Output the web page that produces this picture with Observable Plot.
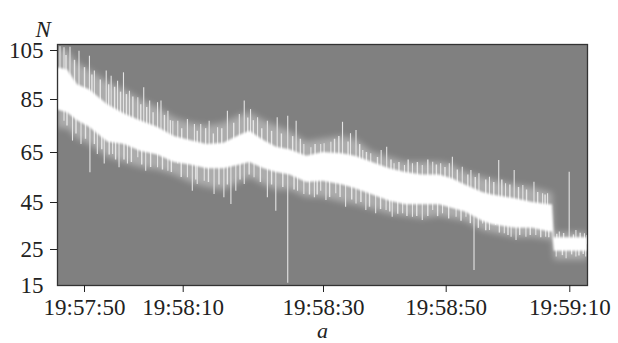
<!DOCTYPE html>
<html><head><meta charset="utf-8">
<script src="https://cdn.jsdelivr.net/npm/d3@7"></script>
<script src="https://cdn.jsdelivr.net/npm/@observablehq/plot@0.6"></script>
<style>
body{margin:0;background:#fff}
#chart svg{display:block}
#chart svg, #chart svg text{font-family:"Liberation Serif","Times New Roman",serif !important;}
</style>
</head><body><div id="chart"></div>
<script>
// time in seconds after 19:57:00
const coreT  = [44.6,46.6,48.6,51,54.7,58.1,61.3,64.8,68.2,71,73.4,75.8,78.1,79.5,81.5,83.3,85.2,87.6,89.9,93.1,95.2,98,100.8,103.4,106.1,108.9,111,113.1,115.9,117.5,121.2,124,126.7,127.2,127.5,130.1,132.9];
const coreHi = [98,97,91,89,83,79.5,77,74.5,71,69.5,68,68.5,71.5,73,69.5,67,66,63.5,65,64.5,63.5,61,58.5,57,56,56,54.5,52,49,48,46.5,45,44,44,30,30,30];
const coreLo = [81,80,77,74.5,69,68,65.5,64,61,60,58.5,58.5,60,61,58.5,57,56,53,53.5,52,50.5,48,45.5,44,44,44,42.5,41,37,35.5,34,34,32.5,32.5,24.5,24.5,24.5];
const haloHi = [106,105,100,97,92,89,85,82,78,76,75,76,79,80,77,75,73,69,70,71,70,65,63,61,61,61,60,57,55,54,52,51,49,49,32,32,32];
const haloLo = [74,74,70,68,63,61,59,58,56,53,51,50,53,55,52,50,50,47,47,45,44,42,40,39,38,39,38,37,33,32,30,30,29,29,22,22,22];

const upT    = [45.1,45.9,47.1,48.9,51.0,52.0,54.4,55.4,56.7,57.9,59.1,60.8,62.0,63.2,64.8,65.5,66.9,67.9,68.9,70.6,71.6,72.5,73.7,74.9,76.3,78.0,78.7,79.6,80.6,82.0,83.4,84.9,86.1,87.2,88.2,89.6,90.1,91.2,93.1,94.4,95.3,96.4,97.7,99.4,100.3,101.5,103.2,104.5,106.1,107.8,109.1,110.5,111.0,112.6,114.0,115.3,117.0,118.5,119.6,121.0,122.4,124.2,125.6,126.4,128.3,129.9,131.0,132.4];
const upBase = [90,90,89,84,82,80,76,76,75,74,73,71,70,70,69,69,68,66,66,65,65,64,63,63,63,66,66,67,65,63,62,61,60,58,58,59,59,59,58,57,57,56,54,53,52,51,50,50,50,50,50,48,48,47,45,43,41.5,41,40,40,40,39.5,38,38,27,27,27,27];
const upTop  = [106.5,106.1,106.3,104.7,102.7,96.6,96.6,94.5,92.5,95.9,88.4,85.7,89.8,84.4,83.8,84.4,80.6,76.8,76.8,77.5,75.6,75.6,76.8,74.3,80.6,79.3,84.4,81.2,78.1,76.8,78.1,78.7,76.8,68,66.8,68,68.3,68.9,76.4,72.1,73.3,65.8,64.5,65.8,67,60.5,59.8,60.5,59.8,61.1,60.5,60.5,63.1,59.1,57.8,56.5,55.1,61.8,52.5,57.8,51.8,53.1,48.5,48.5,32.4,57.1,33.1,31.7];

const downT    = [45.9,47.6,49.3,51.1,52.6,54.0,55.7,57.0,58.7,60.8,62.4,64.8,66.9,68.9,70.6,71.3,72.0,73.0,74.4,75.8,76.8,77.5,78.7,80.1,82.0,83.2,84.9,86.3,87.2,88.7,89.6,90.4,92.0,93.6,95.3,96.9,98.5,100.2,101.2,102.9,104.5,106.1,107.8,109.4,111.6,113.2,114.5,115.9,117.0,118.0,119.4,120.5,121.3,122.9,124.5,126.1,127.8,129.4,131.0,132.6];
const downBase = [90,88,84,82,80,77,76,75,73,71,70,69,68,66,65,65,64,63,63,63,63,64,66,66,63,62,61,60,58,58,59,59,58,58,57,56,54,52,51,50,50,50,50,49,48,46,45,43,41.5,41,40,40,40,40,39.5,38,27,27,27,27];
const downBot  = [76.8,69.3,68,56.9,64.2,60.4,64.2,58.9,60.4,62.9,57.5,58.9,57.5,60.4,54.9,49.5,52.2,53.5,48.2,46.9,44.1,49.5,52.2,54.9,46.9,41.3,15.6,49.5,48.2,46.9,49.5,45.8,48.5,43,44.4,41.6,40.2,41.6,38.7,40.2,38.7,37.3,41.6,40.2,38.7,38.7,19.2,35.9,33.1,35.2,31.7,30.2,28.8,30.2,31,30.2,22.9,22.4,22.9,22.9];

// shorter, denser spikes of the noisy band
const minorUpT    = [46.3,48.0,50.0,51.5,53.2,54.9,56.1,57.3,58.5,59.8,61.4,62.6,63.9,66.2,67.4,69.7,72.0,73.2,74.3,75.5,77.2,79.2,80.0,81.2,82.6,84.0,85.6,86.7,88.8,91.8,92.5,94.0,95.9,97.0,98.8,101.0,102.3,103.8,105.3,107.0,108.4,109.8,111.8,113.5,114.7,116.4,117.7,119.0,120.3,121.7,123.0,124.8,126.0,127.9,129.0,130.6,131.7,132.8];
const minorUpBase = [90,87,83,81,78,76,75,74,73,72,71,70,69,68,67,65,64,63,63,63,64,66,66,64,63,62,60,59,58,58,58,57,56,55,53,51,50,50,50,50,50,49,48,46,44,42,41,41,40,40,40,39,38,27,27,27,27,27];
const minorUpTop  = [103,101,98,95,93,91,90,88,87,86,83,82,80,79,77,74,73,74,72,74,76,78,77,74,73,72,71,70,68,70,71,69,68,65,63,62,61,62,61,62,60,59,58,56,55,54,53,54,52,51,50,49,48,31.5,31.8,31.2,31.9,31];
const minorDownT    = [46.5,48.3,50.2,52.0,53.5,55.0,56.3,58.0,59.5,61.6,63.4,65.8,67.6,69.6,71.8,73.6,75.1,76.3,78.1,79.4,81.0,82.6,84.2,85.8,88.0,89.1,91.0,92.7,94.6,96.1,97.5,99.3,100.8,102.1,103.6,105.2,107.0,108.6,110.4,112.4,113.9,115.2,116.4,118.6,120.0,121.9,123.6,125.3,126.6,128.8,130.3,131.5,132.2];
const minorDownBot  = [75,72,70,68,66,64,62,62,61,60,59,58,57,55,54,53,52,52,54,56,53,52,51,50,48,48,47,47,46,45,43,42,41,40,39,39,39,39,38,37,36,34,33,32,31,31,31,30,30,23.3,23.5,23.2,23.6];
const minorDownBase = [90,87,83,80,78,76,75,74,72,71,70,68,67,65,64,63,63,63,66,67,65,63,62,60,58,59,59,58,57,56,55,53,52,51,50,50,50,50,48,47,45,44,42,41,40,40,40,39,38,27,27,27,27];

const yTicks = [25,45,65,85,105];
const yBottomTick = [15];
const xTicks = [50,70,90,110,130];
const xTickLabels = ["19:57:50","19:58:10","19:58:30","19:58:50","19:59:10"];

const core = coreT.map((t,i)=>({t, lo:coreLo[i], hi:coreHi[i], hlo:haloLo[i], hhi:haloHi[i]}));
const spikes = upT.map((t,i)=>({t, a:upBase[i], b:upTop[i]}))
  .concat(downT.map((t,i)=>({t, a:downBot[i], b:downBase[i]})));
const minor = minorUpT.map((t,i)=>({t, a:minorUpBase[i], b:minorUpTop[i]}))
  .concat(minorDownT.map((t,i)=>({t, a:minorDownBot[i], b:minorDownBase[i]})));

const FONT = "'Liberation Serif','Times New Roman',serif";
const chart = Plot.plot({
  width:618, height:343,
  marginLeft:57, marginRight:31, marginTop:44, marginBottom:58,
  style:{fontFamily:FONT, fontSize:"23px", color:"#222", background:"white"},
  x:{type:"linear", domain:[44.6,50,70,90,110,130,132.9], range:[57,84,182.7,323,445.7,569.3,587]},
  y:{type:"linear", domain:[15,25,45,65,85,105,107.4], range:[285,249,202,152,99,50,44]},
  marks:[
    Plot.frame({fill:"#808080"}),
    Plot.areaY(core,{x:"t", y1:"hlo", y2:"hhi", fill:"white", fillOpacity:0.35, imageFilter:"blur(3px)"}),
    Plot.ruleX(minor,{x:"t", y1:"a", y2:"b", stroke:"#f0f0f0", strokeWidth:1.4, strokeOpacity:0.85}),
    Plot.ruleX(spikes,{x:"t", y1:"a", y2:"b", stroke:"#e4e4e4", strokeWidth:1.1}),
    Plot.areaY(core,{x:"t", y1:"lo", y2:"hi", fill:"white", imageFilter:"blur(1px)"}),
    Plot.frame({stroke:"#333", strokeWidth:1.3}),
    Plot.axisY(yTicks,{tickSize:7, tickPadding:7, label:null, fontSize:23, fontFamily:FONT}),
    Plot.axisY(yBottomTick,{tickSize:0, tickPadding:14, label:null, fontSize:23, fontFamily:FONT}),
    Plot.axisX(xTicks,{tickSize:7, tickPadding:6, label:null, fontSize:23, fontFamily:FONT, tickFormat:(d,i)=>xTickLabels[i]}),
    Plot.text(["N"],{frameAnchor:"top-left", dx:-22, dy:-24, text:d=>d, fontStyle:"italic", fontSize:23, fontFamily:FONT, fill:"#222"}),
    Plot.text(["a"],{frameAnchor:"bottom", dy:52, text:d=>d, fontStyle:"italic", fontSize:22, fontFamily:FONT, fill:"#222"})
  ]
});
document.getElementById("chart").append(chart);
</script></body></html>
